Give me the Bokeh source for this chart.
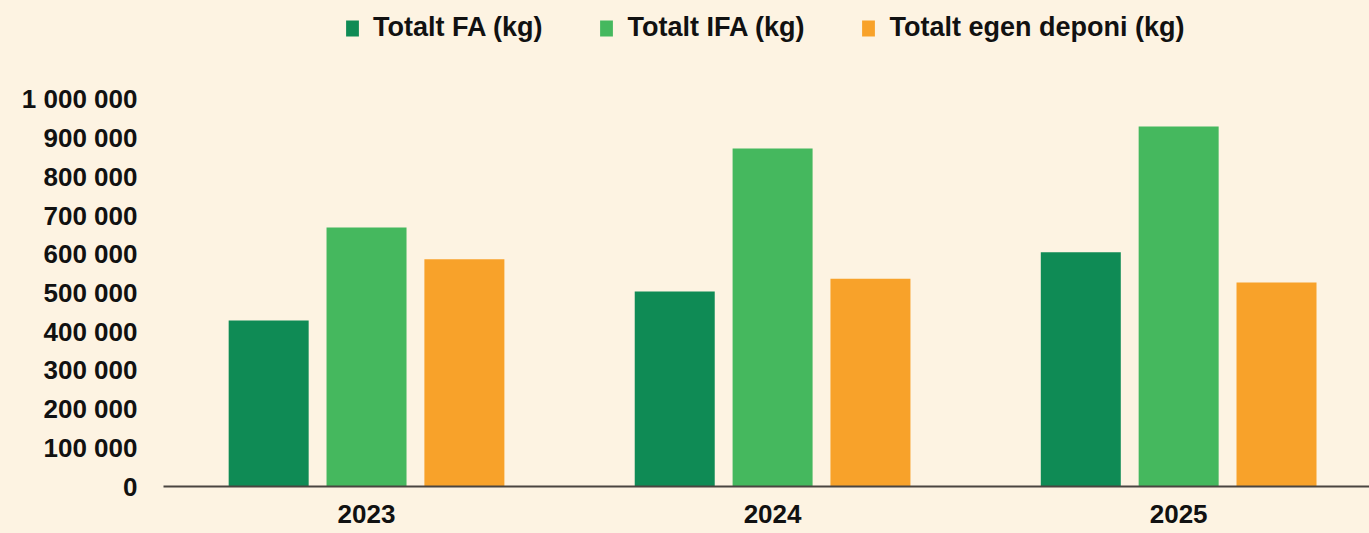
from bokeh.plotting import figure
from bokeh.models import ColumnDataSource, Range1d, FixedTicker, Legend, LegendItem
from bokeh.embed import file_html
from bokeh.resources import INLINE

# ---- data ----
years = ["2023", "2024", "2025"]
series_names = ["Totalt FA (kg)", "Totalt IFA (kg)", "Totalt egen deponi (kg)"]
fa = [429000, 504000, 605000]
ifa = [669000, 873000, 930000]
deponi = [587000, 537000, 527000]
y_ticks = [0, 100000, 200000, 300000, 400000, 500000, 600000, 700000, 800000, 900000, 1000000]

colors = ["#0F8B55", "#45B85E", "#F8A22A"]
BG = "#FDF3E2"
FONT = "Liberation Sans"

p = figure(
    frame_width=1206, frame_height=478,
    min_border_left=163, min_border_right=0, min_border_top=8, min_border_bottom=45,
    x_range=Range1d(-0.5, 2.47), y_range=Range1d(0, 1235000),
    output_backend="svg", toolbar_location=None,
    background_fill_color=BG, border_fill_color=BG, outline_line_color=None,
)

idx = list(range(len(years)))
offsets = [-0.241, 0.0, 0.241]
renderers = []
for vals, off, col in zip([fa, ifa, deponi], offsets, colors):
    src = ColumnDataSource(dict(x=[i + off for i in idx], top=vals))
    r = p.vbar(x="x", top="top", bottom=0, width=0.197, source=src,
               fill_color=col, line_color=None)
    renderers.append(r)

p.grid.visible = False

# x axis
p.xaxis.ticker = FixedTicker(ticks=idx)
p.xaxis.major_label_overrides = {i: y for i, y in zip(idx, years)}
p.xaxis.major_tick_line_color = None
p.xaxis.minor_tick_line_color = None
p.xaxis.axis_line_color = "#4a4540"
p.xaxis.axis_line_width = 2
p.xaxis.major_label_text_font = FONT
p.xaxis.major_label_text_font_style = "bold"
p.xaxis.major_label_text_font_size = "26px"
p.xaxis.major_label_text_color = "#111111"
p.xaxis.major_label_standoff = 12

# y axis
p.yaxis.ticker = FixedTicker(ticks=y_ticks)
p.yaxis.major_label_overrides = {v: f"{v:,}".replace(",", " ") for v in y_ticks}
p.yaxis.axis_line_color = None
p.yaxis.major_tick_line_color = None
p.yaxis.minor_tick_line_color = None
p.yaxis.major_label_text_font = FONT
p.yaxis.major_label_text_font_style = "bold"
p.yaxis.major_label_text_font_size = "26px"
p.yaxis.major_label_text_color = "#111111"
p.yaxis.major_label_standoff = 20

legend = Legend(
    items=[LegendItem(label=n, renderers=[r]) for n, r in zip(series_names, renderers)],
    orientation="horizontal", location=(181, 443),
    glyph_width=16, glyph_height=20, label_standoff=13, spacing=56,
    padding=0, margin=0, border_line_color=None, background_fill_alpha=0,
    label_text_font=FONT, label_text_font_style="bold", label_text_font_size="27px",
    label_text_color="#111111",
)
p.add_layout(legend, "center")

html = file_html(p, INLINE)
html = html.replace("<head>", "<head><style>body{background:%s;}</style>" % BG, 1)
open("out.html", "w").write(html)
